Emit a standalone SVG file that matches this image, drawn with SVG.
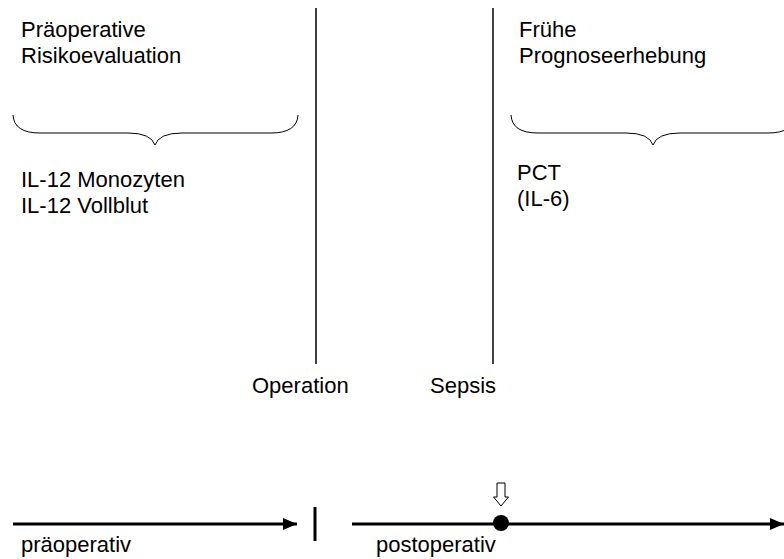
<svg xmlns="http://www.w3.org/2000/svg" width="784" height="559" viewBox="0 0 784 559">
<style>
text{font-family:"Liberation Sans",Arial,sans-serif;font-size:22px;fill:#000}
.thin{stroke:#000;stroke-width:1.5;fill:none}
.brace{stroke:#000;stroke-width:1;fill:none}
.axis{stroke:#000;stroke-width:3;fill:none}
</style>
<defs>
<marker id="ah" viewBox="0 0 14 12" refX="14" refY="6" markerWidth="14" markerHeight="12" orient="auto" markerUnits="userSpaceOnUse">
<path d="M0,0 L14,6 L0,12 Z" fill="#000"/>
</marker>
</defs>
<g id="connectors">
<line class="thin" x1="316" y1="8" x2="316" y2="364"/>
<line class="thin" x1="493" y1="8" x2="493" y2="364"/>
<path class="brace" d="M13,115 Q14,133 40,133 L128,133 Q151,133 155,145 Q159,133 182,133 L271,133 Q297,133 298,115"/>
<path class="brace" d="M511,115 Q512,133 538,133 L626,133 Q649,133 653,145 Q657,133 680,133 L768,133 Q794,133 795,115"/>
<line class="axis" x1="13" y1="524" x2="297" y2="524" marker-end="url(#ah)"/>
<line class="axis" x1="315" y1="507" x2="315" y2="541"/>
<line class="axis" x1="352" y1="524" x2="784" y2="524" marker-end="url(#ah)"/>
<circle cx="501" cy="523" r="8" fill="#000"/>
<path d="M497,483 L505,483 L505,497 L508.5,497 L501,506 L493.5,497 L497,497 Z" fill="#fff" stroke="#000" stroke-width="1"/>
</g>
<g id="preop">
<text x="21" y="37">Präoperative</text>
<text x="21" y="63">Risikoevaluation</text>
</g>
<g id="preop-markers">
<text x="21" y="187">IL-12 Monozyten</text>
<text x="21" y="213">IL-12 Vollblut</text>
</g>
<g id="early">
<text x="519" y="37">Frühe</text>
<text x="519" y="63">Prognoseerhebung</text>
</g>
<g id="early-markers">
<text x="517" y="180">PCT</text>
<text x="517" y="206">(IL-6)</text>
</g>
<g id="operation"><text x="252" y="393">Operation</text></g>
<g id="sepsis"><text x="430" y="393">Sepsis</text></g>
<g id="praeop-label"><text x="21" y="552">präoperativ</text></g>
<g id="postop-label"><text x="376" y="552">postoperativ</text></g>
</svg>
